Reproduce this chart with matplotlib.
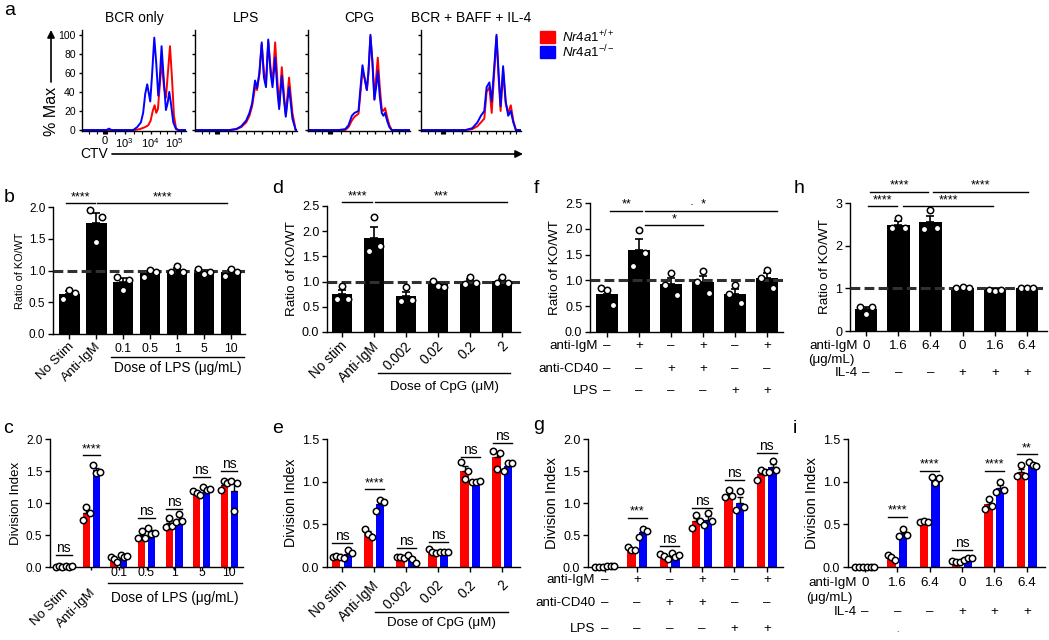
import numpy as np
import matplotlib
matplotlib.use('Agg')
import matplotlib.pyplot as plt
from matplotlib import transforms
from matplotlib.patches import Rectangle

plt.rcParams['font.family'] = ['Liberation Sans', 'DejaVu Sans']
plt.rcParams['mathtext.fontset'] = 'custom'
plt.rcParams['mathtext.rm'] = 'Liberation Sans'
plt.rcParams['mathtext.it'] = 'Liberation Sans:italic'

W, H = 1049, 640
RED = '#ff0000'
BLUE = '#0000ff'

# ---- panel a: CTV histograms (x in % of axis width, y in % max) ----
bcr_x_ko = [0, 23.5, 26, 28.3, 49.2, 53, 56.6, 58.8, 60.8, 62.7, 64, 65.6, 67.2, 69.5, 71.4,
            73.3, 74.6, 76.5, 78.5, 80.7, 82.3, 83.9, 85.5, 87.8, 90.4, 92.6, 100]
bcr_ko = [0, 0, 1.5, 0, 0, 3, 8, 18, 38, 48, 40, 30, 55, 97, 70,
          36, 50, 88, 55, 21, 28, 40, 28, 8, 1, 0, 0]
bcr_x_wt = [0, 50.5, 55.6, 60.5, 63.7, 66, 68, 69.8, 71.4, 73, 75, 76.8, 78.8, 80.7,
            82.6, 84.6, 86.5, 88.4, 90.4, 92.6, 100]
bcr_wt = [0, 0, 1, 3, 5, 10, 20, 26, 18, 22, 50, 72, 45, 34, 60, 88, 55, 15, 2, 0, 0]

lps_x = [0, 34, 40.5, 45.3, 50.2, 53.4, 56, 58.9, 60.8, 63.1, 65.4, 67.6, 69.6, 71.8, 74.1,
         76, 78.6, 80.9, 82.5, 85.1, 87.4, 89, 92.2, 95.5, 98.7, 100]
lps_ko = [0, 0, 1, 4, 10, 18, 28, 52, 44, 60, 92, 55, 45, 95, 60, 45, 76, 40, 22, 57, 30, 14, 45, 12, 0, 0]
lps_wt = [0, 0, 1, 3, 8, 15, 25, 45, 42, 58, 90, 60, 50, 93, 65, 50, 92, 50, 25, 66, 35, 16, 55, 18, 0, 0]

cpg_x = [0, 30, 36.5, 39.7, 43, 45.6, 49.5, 51.1, 53.4, 55.4, 57.7, 59.3, 61.2, 63.2, 65.1,
         66.8, 68.4, 70.4, 72.3, 73.9, 75.6, 77.5, 79.8, 82.1, 100]
cpg_ko = [0, 0, 1, 5, 15, 18, 20, 40, 68, 55, 42, 62, 100, 70, 32, 45, 62, 35, 18, 15, 18, 10, 3, 0, 0]
cpg_wt = [0, 0, 0, 3, 10, 14, 17, 35, 62, 55, 42, 60, 98, 72, 32, 55, 76, 45, 22, 20, 23, 14, 5, 0, 0]

baff_x = [0, 44.6, 51.3, 56.4, 59.9, 63.3, 65.6, 68.4, 70.7, 73.5, 75.5, 77.6, 79.6, 82.1,
          84.7, 87.2, 89.8, 92.3, 94.9, 100]
baff_ko = [0, 0, 2, 8, 15, 20, 45, 50, 30, 70, 100, 60, 25, 67, 30, 15, 20, 8, 0, 0]
baff_wt = [0, 0, 1, 4, 8, 12, 40, 45, 18, 65, 98, 55, 20, 62, 28, 18, 26, 10, 0, 0]

hist_titles = ['BCR only', 'LPS', 'CPG', 'BCR + BAFF + IL-4']
ctv_ticks = [22, 41, 66, 89]
ctv_labels = ['0', '$10^3$', '$10^4$', '$10^5$']

# ---- ratio of KO/WT (3 mice per condition) ----
b_labels = ['No Stim', 'Anti-IgM', '0.1', '0.5', '1', '5', '10']
b_pts = [[0.55, 0.69, 0.65], [1.95, 1.45, 1.84], [0.90, 0.70, 0.85], [0.89, 1.01, 0.97],
         [0.98, 1.07, 0.98], [1.03, 0.94, 0.98], [0.91, 1.02, 0.98]]

d_labels = ['No stim', 'Anti-IgM', '0.002', '0.02', '0.2', '2']
d_pts = [[0.66, 0.92, 0.66], [1.60, 2.29, 1.70], [0.61, 0.89, 0.63], [1.02, 0.92, 0.90],
         [0.95, 1.10, 0.97], [0.97, 1.10, 0.97]]

f_pts = [[0.86, 0.81, 0.52], [1.27, 1.98, 1.54], [0.92, 1.15, 0.71], [0.97, 1.18, 0.76],
         [0.73, 0.91, 0.56], [1.05, 1.21, 0.86]]
f_igm = ['–', '+', '–', '+', '–', '+']
f_cd40 = ['–', '–', '+', '+', '–', '–']
f_lps = ['–', '–', '–', '–', '+', '+']

h_pts = [[0.57, 0.41, 0.57], [2.41, 2.65, 2.41], [2.40, 2.83, 2.41], [1.00, 1.02, 1.00],
         [0.95, 0.94, 0.96], [1.00, 1.01, 1.00]]
h_igm = ['0', '1.6', '6.4', '0', '1.6', '6.4']
h_il4 = ['–', '–', '–', '+', '+', '+']

# ---- division index (WT red, KO blue) ----
c_wt = [[0.0, 0.01, 0.0], [0.74, 0.94, 0.85], [0.16, 0.12, 0.08], [0.46, 0.56, 0.46],
        [0.63, 0.77, 0.64], [1.19, 1.16, 1.13], [1.21, 1.34, 1.31]]
c_ko = [[0.01, 0.0, 0.01], [1.59, 1.47, 1.48], [0.18, 0.16, 0.17], [0.61, 0.52, 0.53],
        [0.71, 0.83, 0.72], [1.25, 1.21, 1.22], [1.35, 0.88, 1.31]]

e_wt = [[0.12, 0.13, 0.12], [0.44, 0.39, 0.35], [0.12, 0.12, 0.11], [0.21, 0.18, 0.16],
        [1.23, 1.03, 1.13], [1.36, 1.15, 1.34]]
e_ko = [[0.10, 0.20, 0.16], [0.66, 0.79, 0.76], [0.14, 0.09, 0.05], [0.18, 0.17, 0.18],
        [1.00, 1.00, 1.01], [1.12, 1.22, 1.22]]

g_wt = [[0.0, 0.005, 0.0], [0.31, 0.26, 0.27], [0.21, 0.17, 0.13], [0.61, 0.81, 0.72],
        [1.09, 1.20, 1.11], [1.36, 1.52, 1.48]]
g_ko = [[0.02, 0.02, 0.02], [0.47, 0.60, 0.57], [0.22, 0.15, 0.18], [0.65, 0.85, 0.72],
        [0.89, 1.18, 0.93], [1.49, 1.66, 1.52]]

i_wt = [[0.003, 0.003, 0.003], [0.14, 0.12, 0.08], [0.53, 0.54, 0.53], [0.07, 0.06, 0.06],
        [0.68, 0.80, 0.72], [1.07, 1.19, 1.07]]
i_ko = [[0.003, 0.003, 0.003], [0.36, 0.45, 0.37], [1.06, 0.99, 1.04], [0.08, 0.11, 0.10],
        [0.88, 1.00, 0.90], [1.23, 1.20, 1.18]]


fig = plt.figure(figsize=(W / 100, H / 100), dpi=100)


def fy(y):
    return 1 - y / H


def px_ax(l, t, r, b):
    return fig.add_axes([l / W, 1 - b / H, (r - l) / W, (b - t) / H])


def style(ax, fs):
    for s in ['top', 'right']:
        ax.spines[s].set_visible(False)
    for s in ['left', 'bottom']:
        ax.spines[s].set_linewidth(1.0)
    ax.tick_params(direction='out', length=3.5, width=1.0, labelsize=fs, pad=2)


def letter(x, y, s):
    fig.text(x / W, fy(y), s, fontsize=14, ha='left', va='baseline')


def mixed(ax):
    return transforms.blended_transform_factory(ax.transData, fig.transFigure)


def hist_ax(box, title, curves, first):
    ax = px_ax(*box)
    for x, y, c in curves:
        ax.plot(x, y, color=c, lw=1.4)
    ax.set_xlim(0, 100)
    ax.set_ylim(-1, 105)
    style(ax, 7.5)
    ax.tick_params(length=2.5)
    ax.set_yticks(range(0, 101, 20))
    ax.set_xticks(ctv_ticks)
    ax.set_xticks([7, 14, 20, 21, 23, 24, 32, 50, 58, 75, 82, 95], minor=True)
    ax.tick_params(which='minor', length=2, width=0.8)
    if first:
        ax.set_xticklabels(ctv_labels, fontsize=8)
        ax.tick_params(axis='x', pad=1)
    else:
        ax.set_xticklabels([])
        ax.set_yticklabels([])
    ax.set_title(title, fontsize=10, pad=6)


def ratio_ax(box, pts, xlim, ylim, yticks, ylabs, width, fs, lfs):
    ax = px_ax(*box)
    pts = np.array(pts)
    mean = pts.mean(1)
    sem = pts.std(1, ddof=1) / np.sqrt(pts.shape[1])
    x = np.arange(len(mean))
    ax.bar(x, mean, width, color='black', zorder=1)
    ax.errorbar(x, mean, yerr=[np.zeros_like(sem), sem], fmt='none', ecolor='black',
                elinewidth=1.2, capsize=3, capthick=1.2, zorder=2)
    jit = np.array([-0.28, 0, 0.28]) * width
    for i in x:
        ax.plot(i + jit, pts[i], 'o', mfc='white', mec='black', ms=4.6, mew=1.1,
                zorder=4, clip_on=False)
    ax.axhline(1, color='#303030', lw=2.2, ls=(0, (3.2, 1.4)), zorder=3)
    ax.set_xlim(*xlim)
    ax.set_ylim(*ylim)
    style(ax, fs)
    ax.set_yticks(yticks, ylabs)
    ax.set_xticks(x, [''] * len(x))
    ax.set_ylabel('Ratio of KO/WT', fontsize=lfs, labelpad=3)
    return ax, x


def div_ax(box, wt, ko, xlim, ylim, yticks, fs, lfs):
    ax = px_ax(*box)
    wt = np.array(wt)
    ko = np.array(ko)
    x = np.arange(len(wt))
    bw, off = 0.26, 0.18
    for pts, c, sgn in [(wt, RED, -1), (ko, BLUE, 1)]:
        mean = pts.mean(1)
        sem = pts.std(1, ddof=1) / np.sqrt(pts.shape[1])
        ax.bar(x + sgn * off, mean, bw, color=c, zorder=1)
        ax.errorbar(x + sgn * off, mean, yerr=[np.zeros_like(sem), sem], fmt='none',
                    ecolor='black', elinewidth=1.0, capsize=2, capthick=1.0, zorder=2)
        jit = np.array([-0.45, 0, 0.45]) * bw
        for i in x:
            ax.plot(i + sgn * off + jit, pts[i], 'o', mfc='white', mec='black', ms=4.6,
                    mew=1.1, zorder=4, clip_on=False)
    ax.set_xlim(*xlim)
    ax.set_ylim(*ylim)
    style(ax, fs)
    ax.set_yticks(yticks, ['%.1f' % v for v in yticks])
    ax.set_xticks(x, [''] * len(x))
    ax.set_ylabel('Division Index', fontsize=lfs, labelpad=3)
    return ax, x


def sig(ax, x1, x2, y, s, fs=9, xt=None):
    ax.plot([x1, x2], [y, y], color='black', lw=1.0, clip_on=False)
    if xt is None:
        xt = (x1 + x2) / 2
    ax.text(xt, y, s, ha='center', va='bottom', fontsize=fs, clip_on=False)


def pair_sig(ax, items):
    for g, s, y in items:
        sig(ax, g - 0.3, g + 0.3, y, s, fs=10 if s == 'ns' else 9)


def xlabels(ax, labels, n_rot, y_rot, y_flat, fs_rot, fs_flat):
    tr = mixed(ax)
    for i, lab in enumerate(labels):
        if i < n_rot:
            ax.text(i + 0.1, fy(y_rot), lab, rotation=45, ha='right', va='center',
                    rotation_mode='anchor', fontsize=fs_rot, transform=tr)
        else:
            ax.text(i, fy(y_flat), lab, ha='center', va='center', fontsize=fs_flat,
                    transform=tr)


def dose(ax, x1, x2, yline, ytext, s, fs):
    tr = mixed(ax)
    ax.plot([x1, x2], [fy(yline), fy(yline)], color='black', lw=1.0, transform=tr, clip_on=False)
    ax.text((x1 + x2) / 2, fy(ytext), s, ha='center', va='center', fontsize=fs, transform=tr)


def rows(ax, x, rowlist, xlab, fs):
    tr = mixed(ax)
    for name, vals, y in rowlist:
        for xi, v in zip(x, vals):
            ax.text(xi, fy(y), v, ha='center', va='center', fontsize=fs, transform=tr)
        if name:
            ax.text(xlab, fy(y), name, ha='right', va='center', fontsize=fs, transform=tr)


# ---------------- panel a ----------------
boxes = [(82, 30, 186, 131), (195, 30, 297, 131), (308, 30, 410, 131), (421, 30, 521, 131)]
curves = [
    [(bcr_x_wt, bcr_wt, RED), (bcr_x_ko, bcr_ko, BLUE)],
    [(lps_x, lps_wt, RED), (lps_x, lps_ko, BLUE)],
    [(cpg_x, cpg_wt, RED), (cpg_x, cpg_ko, BLUE)],
    [(baff_x, baff_wt, RED), (baff_x, baff_ko, BLUE)],
]
for k in range(4):
    hist_ax(boxes[k], hist_titles[k], curves[k], k == 0)

letter(4, 15, 'a')
fig.text(51 / W, fy(111), '% Max', rotation=90, ha='center', va='center', fontsize=11.5)
fig.add_artist(plt.Annotation('', xy=(51 / W, fy(30)), xytext=(51 / W, fy(82)),
                              xycoords='figure fraction', textcoords='figure fraction',
                              arrowprops=dict(arrowstyle='-|>', lw=1.2, color='black',
                                              mutation_scale=11, shrinkA=0, shrinkB=0)))
fig.text(80 / W, fy(154), 'CTV', ha='left', va='center', fontsize=10)
fig.add_artist(plt.Annotation('', xy=(523 / W, fy(154)), xytext=(112 / W, fy(154)),
                              xycoords='figure fraction', textcoords='figure fraction',
                              arrowprops=dict(arrowstyle='-|>', lw=1.2, color='black',
                                              mutation_scale=11, shrinkA=0, shrinkB=0)))

# legend
for (y0, c, s) in [(31, RED, r'$\mathit{Nr4a1}^{+/+}$'), (46, BLUE, r'$\mathit{Nr4a1}^{-/-}$')]:
    fig.add_artist(Rectangle((540 / W, fy(y0 + 12)), 15 / W, 12 / H, color=c,
                             transform=fig.transFigure))
    fig.text(562 / W, fy(y0 + 6), s, ha='left', va='center', fontsize=9.5)

# ---------------- panel b ----------------
ax, x = ratio_ax((53, 207, 245, 334), b_pts, (-0.6, 6.52), (0, 2.0),
                 [0, 0.5, 1.0, 1.5, 2.0], ['0.0', '0.5', '1.0', '1.5', '2.0'], 0.77, 8.5, 7.8)
xlabels(ax, b_labels, 2, 345, 348.5, 9.5, 8.8)
sig(ax, -0.1, 0.95, 2.06, '****')
sig(ax, 1.05, 5.85, 2.06, '****')
dose(ax, 1.55, 6.5, 357, 368, 'Dose of LPS (μg/mL)', 9.8)
letter(4, 202, 'b')

# ---------------- panel d ----------------
ax, x = ratio_ax((327, 206, 520, 332), d_pts, (-0.47, 5.55), (0, 2.5),
                 [0, 0.5, 1.0, 1.5, 2.0, 2.5], ['0.0', '0.5', '1.0', '1.5', '2.0', '2.5'],
                 0.62, 9, 9.7)
xlabels(ax, d_labels, 6, 344, 344, 9.8, 9.8)
sig(ax, 0.0, 0.94, 2.58, '****')
sig(ax, 1.03, 5.15, 2.58, '***')
dose(ax, 1.12, 5.25, 373, 387, 'Dose of CpG (μM)', 9.6)
letter(272, 193, 'd')

# ---------------- panel f ----------------
ax, x = ratio_ax((590, 203, 783, 332), f_pts, (-0.53, 5.5), (0, 2.5),
                 [0, 0.5, 1.0, 1.5, 2.0, 2.5], ['0.0', '0.5', '1.0', '1.5', '2.0', '2.5'],
                 0.68, 9, 9.7)
sig(ax, 0.1, 1.1, 2.35, '**')
sig(ax, 1.2, 5.3, 2.35, '·  *', xt=2.85)
sig(ax, 1.2, 3.0, 2.07, '*')
rows(ax, x, [('anti-IgM', f_igm, 346), ('anti-CD40', f_cd40, 369), ('LPS', f_lps, 391)],
     -0.28, 9.6)
letter(534, 193, 'f')

# ---------------- panel h ----------------
ax, x = ratio_ax((850, 203, 1047, 331), h_pts, (-0.5, 5.62), (0, 3.0),
                 [0, 1, 2, 3], ['0', '1', '2', '3'], 0.7, 9, 9.7)
sig(ax, 0.12, 1.93, 3.26, '****')
sig(ax, 2.08, 5.03, 3.26, '****')
sig(ax, 0.06, 0.96, 2.93, '****')
sig(ax, 1.15, 3.94, 2.93, '****')
rows(ax, x, [('anti-IgM', h_igm, 346), ('IL-4', h_il4, 373)], -0.25, 9.6)
ax.text(-0.37, fy(360), '(μg/mL)', ha='right', va='center', fontsize=9.6, transform=mixed(ax))
letter(794, 193, 'h')

# ---------------- panel c ----------------
ax, x = div_ax((50, 439, 243, 567), c_wt, c_ko, (-0.5, 6.5), (0, 2.0),
               [0, 0.5, 1.0, 1.5, 2.0], 8.5, 9.6)
ax.tick_params(axis='x', length=2.5)
xlabels(ax, b_labels, 2, 591, 573, 9.5, 8.8)
pair_sig(ax, [(0, 'ns', 0.19), (1, '****', 1.75), (3, 'ns', 0.77), (4, 'ns', 0.9),
              (5, 'ns', 1.41), (6, 'ns', 1.5)])
dose(ax, 1.6, 6.47, 583, 598, 'Dose of LPS (μg/mL)', 9.8)
letter(3, 433, 'c')

# ---------------- panel e ----------------
ax, x = div_ax((327, 439, 520, 567), e_wt, e_ko, (-0.47, 5.55), (0, 1.5),
               [0, 0.5, 1.0, 1.5], 9, 10.2)
xlabels(ax, d_labels, 6, 583, 583, 9.8, 9.8)
pair_sig(ax, [(0, 'ns', 0.28), (1, '****', 0.91), (2, 'ns', 0.22), (3, 'ns', 0.29),
              (4, 'ns', 1.29), (5, 'ns', 1.45)])
dose(ax, 1.03, 5.19, 612, 623, 'Dose of CpG (μM)', 9.6)
letter(272, 433, 'e')

# ---------------- panel g ----------------
ax, x = div_ax((588, 439, 783, 567), g_wt, g_ko, (-0.52, 5.5), (0, 2.0),
               [0, 0.5, 1.0, 1.5, 2.0], 9, 10.5)
pair_sig(ax, [(1, '***', 0.77), (2, 'ns', 0.33), (3, 'ns', 0.92), (4, 'ns', 1.36),
              (5, 'ns', 1.78)])
rows(ax, x, [('anti-IgM', f_igm, 580), ('anti-CD40', f_cd40, 603), ('LPS', f_lps, 629)],
     -0.3, 9.6)
letter(533, 430, 'g')

# ---------------- panel i ----------------
ax, x = div_ax((848, 439, 1045, 567), i_wt, i_ko, (-0.52, 5.56), (0, 1.5),
               [0, 0.5, 1.0, 1.5], 9, 10.5)
pair_sig(ax, [(1, '****', 0.59), (2, '****', 1.13), (3, 'ns', 0.2), (4, '****', 1.13),
              (5, '**', 1.32)])
rows(ax, x, [('anti-IgM', h_igm, 583), ('IL-4', h_il4, 612)], -0.25, 9.6)
ax.text(-0.37, fy(598), '(μg/mL)', ha='right', va='center', fontsize=9.6, transform=mixed(ax))
letter(793, 433, 'i')
fig.text(897 / W, fy(630), '.', ha='center', va='center', fontsize=6)

fig.savefig('out.png', dpi=100)
